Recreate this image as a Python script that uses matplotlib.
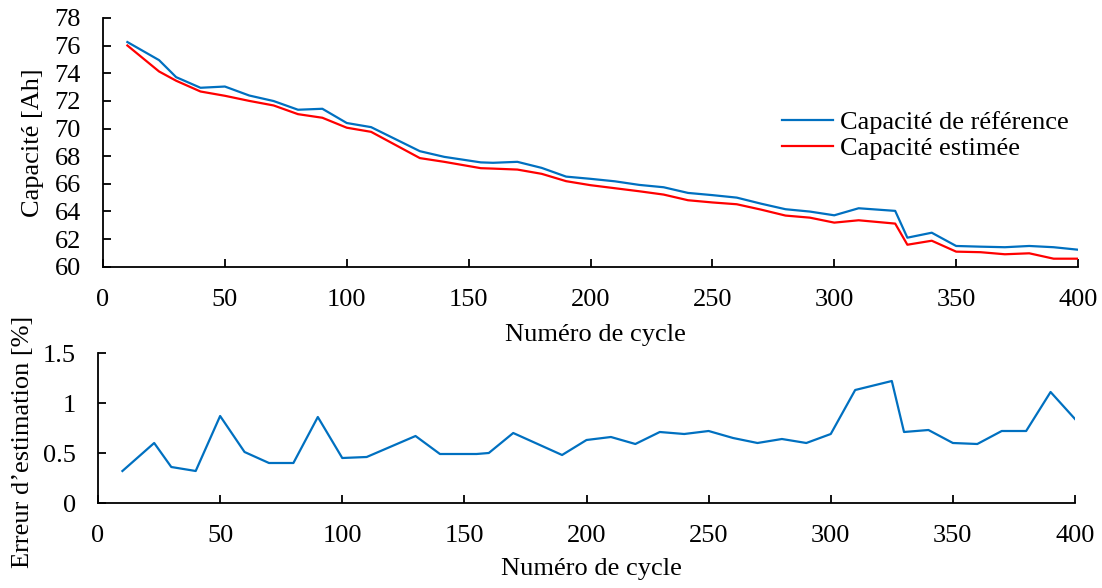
"""
Capacité de référence vs capacité estimée, et erreur d'estimation.
"""

import matplotlib
matplotlib.use("Agg")
import matplotlib.pyplot as plt
from matplotlib.ticker import FuncFormatter

plt.rcParams["font.family"] = ["Liberation Serif", "DejaVu Serif"]

# Capacity curves (top panel)
cycles = [10, 23, 30, 40, 50, 60, 70, 80, 90, 100, 110, 130, 140, 155, 160,
          170, 180, 190, 200, 210, 220, 230, 240, 250, 260, 270, 280, 290,
          300, 310, 325, 330, 340, 350, 360, 370, 380, 390, 400]
cap_ref = [76.26, 74.95, 73.72, 72.95, 73.04, 72.39, 71.99, 71.36, 71.43,
           70.40, 70.10, 68.36, 67.95, 67.55, 67.52, 67.59, 67.15, 66.52,
           66.36, 66.18, 65.92, 65.75, 65.34, 65.18, 65.00, 64.56, 64.16,
           63.99, 63.72, 64.23, 64.04, 62.10, 62.46, 61.50, 61.45, 61.41,
           61.50, 61.41, 61.23]
cap_est = [76.01, 74.13, 73.46, 72.68, 72.37, 72.00, 71.67, 71.04, 70.78,
           70.06, 69.76, 67.86, 67.59, 67.13, 67.10, 67.03, 66.72, 66.19,
           65.90, 65.68, 65.46, 65.22, 64.81, 64.65, 64.52, 64.13, 63.70,
           63.55, 63.19, 63.36, 63.12, 61.59, 61.88, 61.09, 61.05, 60.90,
           60.97, 60.58, 60.58]

# Estimation error (bottom panel)
err_cycles = [10, 23, 30, 40, 50, 60, 70, 80, 90, 100, 110, 130, 140, 155,
              160, 170, 180, 190, 200, 210, 220, 230, 240, 250, 260, 270,
              280, 290, 300, 310, 325, 330, 340, 350, 360, 370, 380, 390, 400]
err_pct = [0.32, 0.60, 0.36, 0.32, 0.87, 0.51, 0.40, 0.40, 0.86, 0.45, 0.46,
           0.67, 0.49, 0.49, 0.50, 0.70, 0.59, 0.48, 0.63, 0.66, 0.59, 0.71,
           0.69, 0.72, 0.65, 0.60, 0.64, 0.60, 0.69, 1.13, 1.22, 0.71, 0.73,
           0.60, 0.59, 0.72, 0.72, 1.11, 0.84]

BLUE = "#0070C0"
RED = "#FF0000"
FS = 19

W, H = 1102, 588
fig = plt.figure(figsize=(W / 100, H / 100), dpi=100)


def style_axes(ax):
    for side in ("top", "right"):
        ax.spines[side].set_visible(False)
    for side in ("left", "bottom"):
        ax.spines[side].set_linewidth(1.3)
    ax.tick_params(direction="in", length=6, width=1.3, labelsize=FS, pad=16)


# top panel
ax1 = fig.add_axes([103 / W, (H - 266.7) / H, 975 / W, 248.7 / H])
style_axes(ax1)
ax1.plot(cycles, cap_ref, color=BLUE, lw=1.6, label="Capacité de référence")
ax1.plot(cycles, cap_est, color=RED, lw=1.6, label="Capacité estimée")
ax1.set_xlim(0, 400)
ax1.set_ylim(60, 78)
ax1.set_xticks(range(0, 401, 50))
ax1.set_yticks(range(60, 79, 2))
ax1.set_xlabel("Numéro de cycle", fontsize=FS)
ax1.set_ylabel("Capacité [Ah]", fontsize=FS)
ax1.xaxis.set_label_coords(0.505, -0.23)
ax1.yaxis.set_label_coords(-0.06, 0.5)
ax1.legend(loc="upper left", bbox_to_anchor=(782 / W, (H - 111) / H),
           bbox_transform=fig.transFigure, frameon=False, fontsize=FS,
           handlelength=1.93, handletextpad=0.25, labelspacing=0.09,
           borderpad=0, borderaxespad=0)

# bottom panel
ax2 = fig.add_axes([98 / W, (H - 503) / H, 977 / W, 150 / H])
style_axes(ax2)
ax2.plot(err_cycles, err_pct, color=BLUE, lw=1.6)
ax2.set_xlim(0, 400)
ax2.set_ylim(0, 1.5)
ax2.set_xticks(range(0, 401, 50))
ax2.set_yticks([0, 0.5, 1, 1.5])
ax2.yaxis.set_major_formatter(FuncFormatter(lambda v, _: f"{v:g}"))
ax2.set_xlabel("Numéro de cycle", fontsize=FS)
ax2.set_ylabel("Erreur d\u2019estimation [%]", fontsize=FS)
ax2.xaxis.set_label_coords(0.505, -0.37)
ax2.yaxis.set_label_coords(-0.065, 0.41)

fig.savefig("out.png", dpi=100)
